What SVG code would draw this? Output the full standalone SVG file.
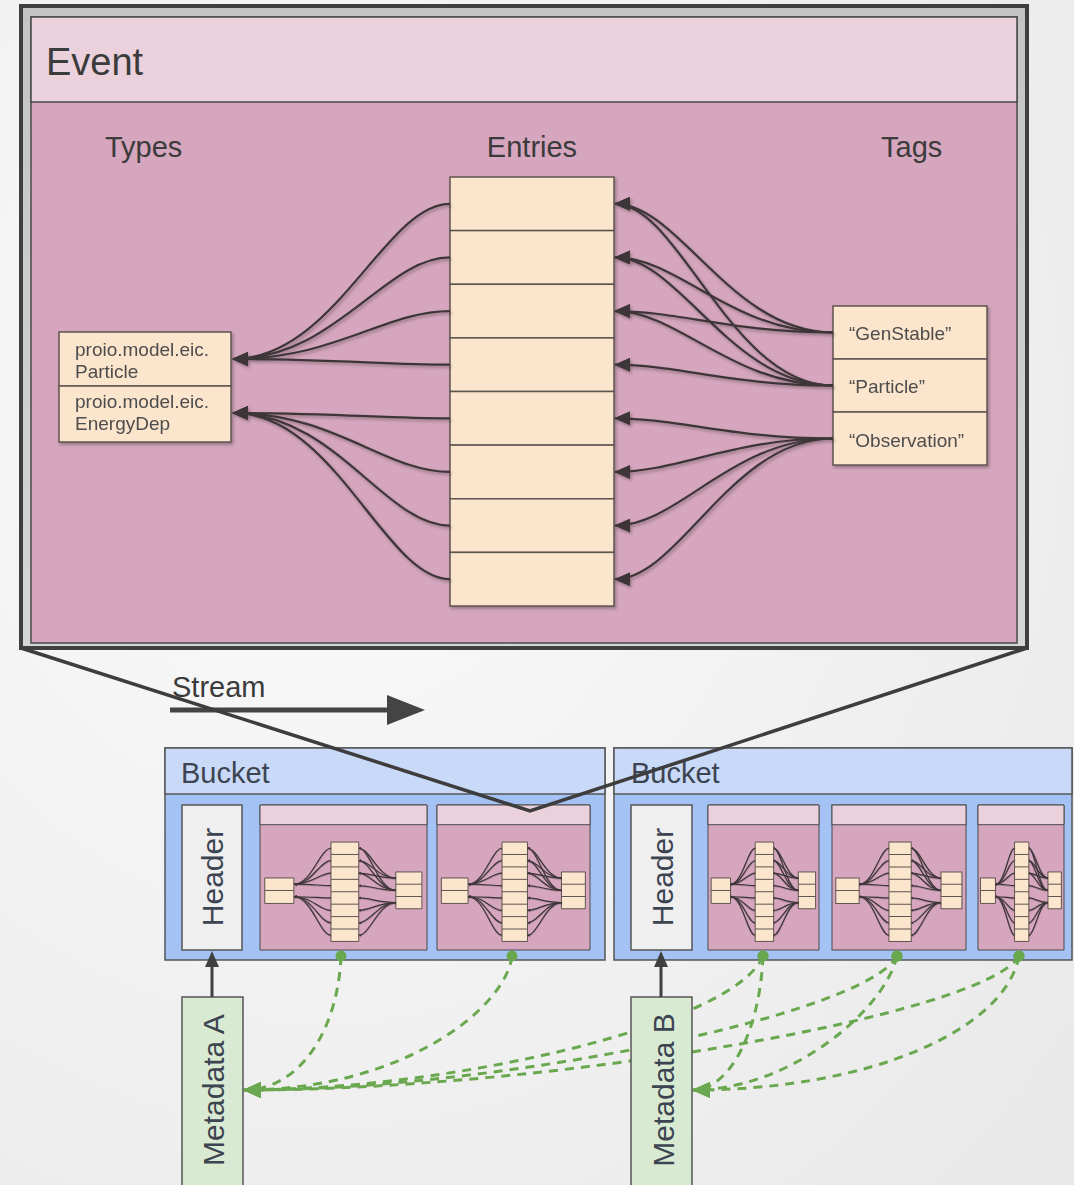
<svg xmlns="http://www.w3.org/2000/svg" xmlns:xlink="http://www.w3.org/1999/xlink" width="1074" height="1185" viewBox="0 0 1074 1185">
<style>
  text { font-family: "Liberation Sans", Arial, sans-serif; }
  .title { font-size: 38px; fill: #3b3b3b; }
  .col { font-size: 29px; fill: #3b3b3b; }
  .lbl { font-size: 19px; fill: #4d4d4d; }
  .big { font-size: 29px; fill: #3d4451; }
  .rot { font-size: 30px; fill: #3d4451; text-anchor: middle; }
  .evb { fill: #d5a6bd; stroke: #4a4a4a; stroke-width: 1.5; }
  .evh { fill: #ead1dc; stroke: #4a4a4a; stroke-width: 1.5; }
  .bx { fill: #fce5cd; stroke: #5f5450; stroke-width: 1.5; }
  .ln { fill: none; stroke: #5f5450; stroke-width: 1.5; }
  .c { fill: none; stroke: #3d3639; stroke-width: var(--cw, 2.2px); vector-effect: non-scaling-stroke; marker-end: url(#ah); }
  .ms { vector-effect: non-scaling-stroke; stroke-width: 1px; }
  .bkh { fill: #c9daf8; stroke: #555; stroke-width: 1.5; }
  .bkb { fill: #a4c2f4; stroke: #555; stroke-width: 1.5; }
  .hdr { fill: #efefef; stroke: #555; stroke-width: 1.5; }
  .meta { fill: #d9ead3; stroke: #555; stroke-width: 1.5; }
  .g { fill: none; stroke: #6aa84f; stroke-width: 3; stroke-dasharray: 9 7; marker-start: url(#gdot); marker-end: url(#garr); }
</style>
<defs>
  <radialGradient id="bg" cx="0.3" cy="0.35" r="0.9">
    <stop offset="0" stop-color="#fbfbfb"/>
    <stop offset="1" stop-color="#e9e9e9"/>
  </radialGradient>
  <linearGradient id="frame" x1="0" y1="0" x2="0" y2="1">
    <stop offset="0" stop-color="#c4c4c4"/>
    <stop offset="1" stop-color="#d6d6d6"/>
  </linearGradient>
  <filter id="sh" x="-10%" y="-10%" width="130%" height="130%">
    <feDropShadow dx="1.5" dy="2" stdDeviation="1.5" flood-color="#000" flood-opacity="0.3"/>
  </filter>
  <marker id="ah" markerUnits="userSpaceOnUse" viewBox="0 0 16 14" markerWidth="16" markerHeight="14" refX="15" refY="7" orient="auto">
    <path d="M0,0 L16,7 L0,14 z" fill="#3d3639"/>
  </marker>
  <marker id="gdot" markerUnits="userSpaceOnUse" viewBox="0 0 12 12" markerWidth="12" markerHeight="12" refX="6" refY="6" orient="auto">
    <circle cx="6" cy="6" r="5.5" fill="#6aa84f"/>
  </marker>
  <marker id="garr" markerUnits="userSpaceOnUse" viewBox="0 0 18 16" markerWidth="18" markerHeight="16" refX="17" refY="8" orient="auto">
    <path d="M0,0 L18,8 L0,16 z" fill="#6aa84f"/>
  </marker>
  <symbol id="mini" viewBox="31 17 986 626" preserveAspectRatio="none" overflow="visible">
    <rect class="evb ms" x="31" y="17" width="986" height="626"/>
    <rect class="evh ms" x="31" y="17" width="986" height="85"/>
    <rect class="bx ms" x="59" y="332" width="172" height="110"/>
    <path class="ln ms" d="M59,386H231"/>
    <rect class="bx ms" x="450" y="177" width="164" height="429"/>
    <path class="ln ms" d="M450,230.6H614M450,284.3H614M450,337.9H614M450,391.5H614M450,445.1H614M450,498.8H614M450,552.4H614"/>
    <rect class="bx ms" x="833" y="306" width="154" height="159"/>
    <path class="ln ms" d="M833,359H987M833,412H987"/>
    <use href="#ev-conn"/>
  </symbol>
</defs>

<rect x="0" y="0" width="1074" height="1185" fill="url(#bg)"/>

<!-- Zoomed event frame -->
<g id="event-frame">
  <rect x="21" y="6" width="1006" height="642" fill="url(#frame)" stroke="#3f3f3f" stroke-width="4"/>
</g>

<g id="event">
  <rect class="evb" x="31" y="17" width="986" height="626"/>
  <rect class="evh" x="31" y="17" width="986" height="85"/>
  <text class="title" x="46" y="75">Event</text>
  <text class="col" x="105" y="157">Types</text>
  <text class="col" x="532" y="157" text-anchor="middle">Entries</text>
  <text class="col" x="881" y="157">Tags</text>
</g>

<g id="types" filter="url(#sh)">
  <rect class="bx" x="59" y="332" width="172" height="54"/>
  <rect class="bx" x="59" y="386" width="172" height="56"/>
  <text class="lbl" x="75" y="356">proio.model.eic.</text>
  <text class="lbl" x="75" y="378">Particle</text>
  <text class="lbl" x="75" y="408">proio.model.eic.</text>
  <text class="lbl" x="75" y="430">EnergyDep</text>
</g>

<g id="entries" filter="url(#sh)">
  <rect class="bx" x="450" y="177" width="164" height="53.6"/>
  <rect class="bx" x="450" y="230.6" width="164" height="53.7"/>
  <rect class="bx" x="450" y="284.3" width="164" height="53.6"/>
  <rect class="bx" x="450" y="337.9" width="164" height="53.6"/>
  <rect class="bx" x="450" y="391.5" width="164" height="53.6"/>
  <rect class="bx" x="450" y="445.1" width="164" height="53.7"/>
  <rect class="bx" x="450" y="498.8" width="164" height="53.6"/>
  <rect class="bx" x="450" y="552.4" width="164" height="53.6"/>
</g>

<g id="tags" filter="url(#sh)">
  <rect class="bx" x="833" y="306" width="154" height="53"/>
  <rect class="bx" x="833" y="359" width="154" height="53"/>
  <rect class="bx" x="833" y="412" width="154" height="53"/>
  <text class="lbl" x="849" y="340">“GenStable”</text>
  <text class="lbl" x="849" y="393">“Particle”</text>
  <text class="lbl" x="849" y="447">“Observation”</text>
</g>

<g id="ev-conn" filter="url(#sh)">
  <path class="c" d="M450,203.8 C385,203.8 335,359 233,359"/>
  <path class="c" d="M450,257.4 C385,257.4 335,359 233,359"/>
  <path class="c" d="M450,311.1 C385,311.1 335,359 233,359"/>
  <path class="c" d="M450,364.7 C385,364.7 335,359 233,359"/>
  <path class="c" d="M450,418.3 C385,418.3 335,413 233,413"/>
  <path class="c" d="M450,471.9 C385,471.9 335,413 233,413"/>
  <path class="c" d="M450,525.6 C385,525.6 335,413 233,413"/>
  <path class="c" d="M450,579.2 C385,579.2 335,413 233,413"/>
  <path class="c" d="M833,332.5 C731,332.5 679,203.8 615,203.8"/>
  <path class="c" d="M833,332.5 C731,332.5 679,257.4 615,257.4"/>
  <path class="c" d="M833,332.5 C731,332.5 679,311.1 615,311.1"/>
  <path class="c" d="M833,385.5 C731,385.5 679,203.8 615,203.8"/>
  <path class="c" d="M833,385.5 C731,385.5 679,257.4 615,257.4"/>
  <path class="c" d="M833,385.5 C731,385.5 679,311.1 615,311.1"/>
  <path class="c" d="M833,385.5 C731,385.5 679,364.7 615,364.7"/>
  <path class="c" d="M833,438.5 C731,438.5 679,418.3 615,418.3"/>
  <path class="c" d="M833,438.5 C731,438.5 679,471.9 615,471.9"/>
  <path class="c" d="M833,438.5 C731,438.5 679,525.6 615,525.6"/>
  <path class="c" d="M833,438.5 C731,438.5 679,579.2 615,579.2"/>
</g>

<!-- Stream arrow -->
<g id="stream">
  <text class="big" x="172" y="697" style="fill:#3b3b3b">Stream</text>
  <path d="M170,710 H390" stroke="#444" stroke-width="5" fill="none"/>
  <path d="M387,695 L425,710 L387,725 z" fill="#444"/>
</g>

<!-- Bucket 1 -->
<g id="bucket-1">
  <rect class="bkb" x="165" y="748" width="440" height="212"/>
  <rect class="bkh" x="165" y="748" width="440" height="46"/>
  <text class="big" x="181" y="783">Bucket</text>
</g>
<g id="header-1">
  <rect class="hdr" x="182" y="805" width="60" height="145"/>
  <text class="rot" transform="translate(223,877) rotate(-90)">Header</text>
</g>
<g id="event-1"><use href="#mini" x="260" y="805" width="167" height="145" style="--cw:1.2px"/></g>
<g id="event-2"><use href="#mini" x="437" y="805" width="153" height="145" style="--cw:1.2px"/></g>

<!-- Bucket 2 -->
<g id="bucket-2">
  <rect class="bkb" x="614" y="748" width="458" height="212"/>
  <rect class="bkh" x="614" y="748" width="458" height="46"/>
  <text class="big" x="631" y="783">Bucket</text>
</g>
<g id="header-2">
  <rect class="hdr" x="631" y="805" width="61" height="145"/>
  <text class="rot" transform="translate(673,877) rotate(-90)">Header</text>
</g>
<g id="event-3"><use href="#mini" x="708" y="805" width="111" height="145" style="--cw:1.2px"/></g>
<g id="event-4"><use href="#mini" x="832" y="805" width="134" height="145" style="--cw:1.2px"/></g>
<g id="event-5"><use href="#mini" x="978" y="805" width="86" height="145" style="--cw:1.2px"/></g>

<!-- Metadata links -->
<g id="meta-links">
  <path class="g" d="M341,956 C338,1030 300,1090 244,1090"/>
  <path class="g" d="M512,956 C505,1010 400,1090 244,1090"/>
  <path class="g" d="M763,956 C735,1025 450,1090 244,1090"/>
  <path class="g" d="M897,956 C865,1015 500,1090 244,1090"/>
  <path class="g" d="M1019,956 C985,1015 550,1090 244,1090"/>
  <path class="g" d="M763,956 C760,1030 730,1090 693,1090"/>
  <path class="g" d="M897,956 C885,1010 790,1090 693,1090"/>
  <path class="g" d="M1019,956 C1005,1030 870,1090 693,1090"/>
</g>

<g id="metadata-a">
  <rect class="meta" x="182" y="997" width="61" height="200"/>
  <text class="rot" transform="translate(224,1090) rotate(-90)">Metadata A</text>
</g>
<g id="metadata-b">
  <rect class="meta" x="631" y="997" width="61" height="200"/>
  <text class="rot" transform="translate(674,1090) rotate(-90)">Metadata B</text>
</g>

<g id="header-links" fill="#404040">
  <path d="M212,997 V966" stroke="#404040" stroke-width="3"/>
  <path d="M205,967 L212,951 L219,967 z"/>
  <path d="M661,997 V966" stroke="#404040" stroke-width="3"/>
  <path d="M654,967 L661,951 L668,967 z"/>
</g>

<!-- Zoom projection lines -->
<g id="zoom-lines">
  <path d="M21,648 L530,811 L1027,648" fill="none" stroke="#3d3d3d" stroke-width="3.5" stroke-linejoin="miter"/>
</g>
</svg>
